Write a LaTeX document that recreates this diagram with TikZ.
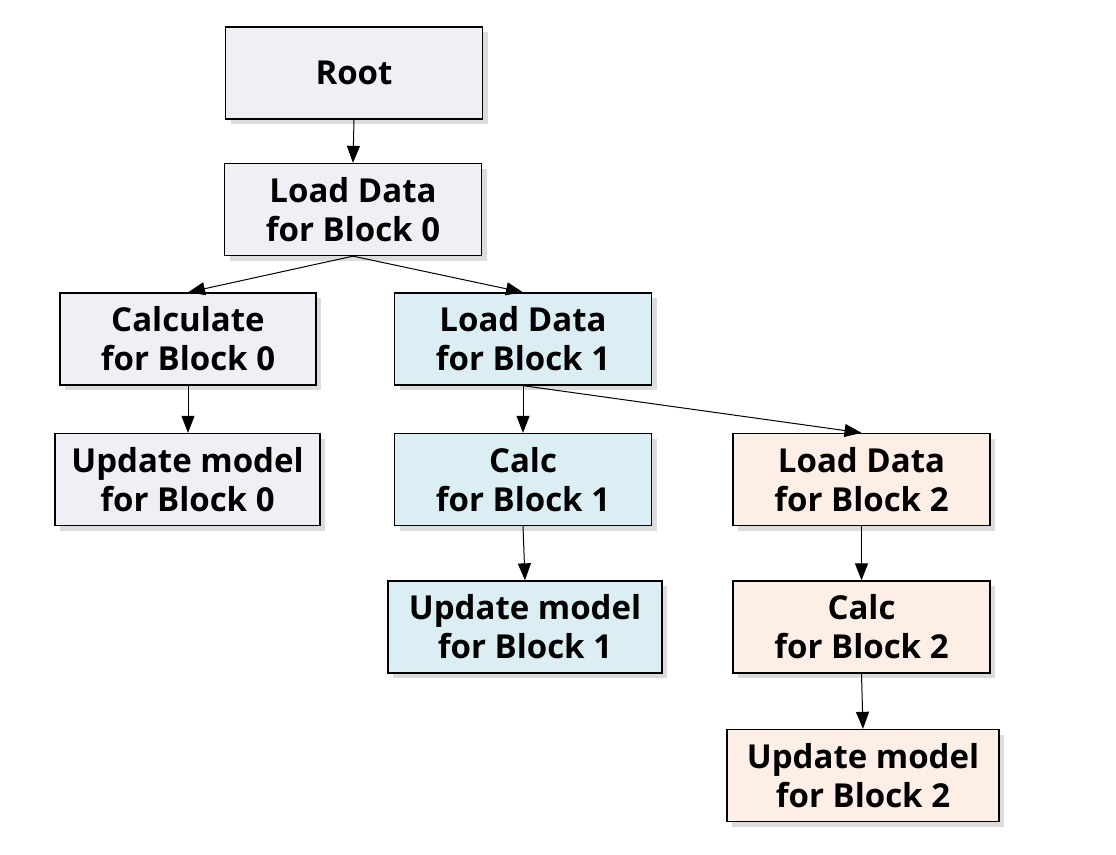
\documentclass[tikz,border=0pt]{standalone}
\usepackage{fontspec}
\setmainfont{Open Sans}
\usetikzlibrary{shadows,arrows.meta}
\definecolor{cgray}{HTML}{F1EFF5}
\definecolor{cblue}{HTML}{DAEEF3}
\definecolor{corange}{HTML}{FDEFE5}
\definecolor{cshadow}{HTML}{DCDCDC}
\tikzset{
  box/.style={draw=black, line width=1.3pt, minimum height=92pt, minimum width=257pt,
    align=center, inner sep=0pt,
    font=\fontsize{33}{39}\selectfont\bfseries,
    drop shadow={shadow xshift=5pt, shadow yshift=-5pt, fill=cshadow, opacity=1}},
  gbox/.style={box, fill=cgray},
  bbox/.style={box, fill=cblue},
  obox/.style={box, fill=corange},
  arr/.style={draw=black, line width=1pt, -{Triangle[length=17pt, width=13pt]}}
}
\begin{document}
\begin{tikzpicture}[x=1pt, y=-1pt]
\useasboundingbox (0,0) rectangle (1116,854);
\node[gbox] (root) at (354,73) {Root};
\node[gbox] (load0) at (353,209.5) {Load Data\\for Block 0};
\node[gbox, minimum width=256pt] (calc0) at (188,339) {Calculate\\for Block 0};
\node[bbox] (load1) at (523,339) {Load Data\\for Block 1};
\node[gbox, minimum width=265pt] (upd0) at (187.5,479.5) {Update model\\for Block 0};
\node[bbox] (calc1) at (523,479.5) {Calc\\for Block 1};
\node[obox] (load2) at (861.5,479.5) {Load Data\\for Block 2};
\node[bbox, minimum width=274pt] (upd1) at (525,627) {Update model\\for Block 1};
\node[obox] (calc2) at (861.5,627) {Calc\\for Block 2};
\node[obox, minimum width=272pt] (upd2) at (863,775.5) {Update model\\for Block 2};
\draw[arr] (root.south) -- (load0.north);
\draw[arr] (load0.south) -- (calc0.north);
\draw[arr] (load0.south) -- (load1.north);
\draw[arr] (calc0.south) -- (upd0.north -| calc0.south);
\draw[arr] (load1.south) -- (calc1.north);
\draw[arr] (load1.south) -- (load2.north);
\draw[arr] (calc1.south) -- (upd1.north);
\draw[arr] (load2.south) -- (calc2.north);
\draw[arr] (calc2.south) -- (upd2.north);
\end{tikzpicture}
\end{document}
